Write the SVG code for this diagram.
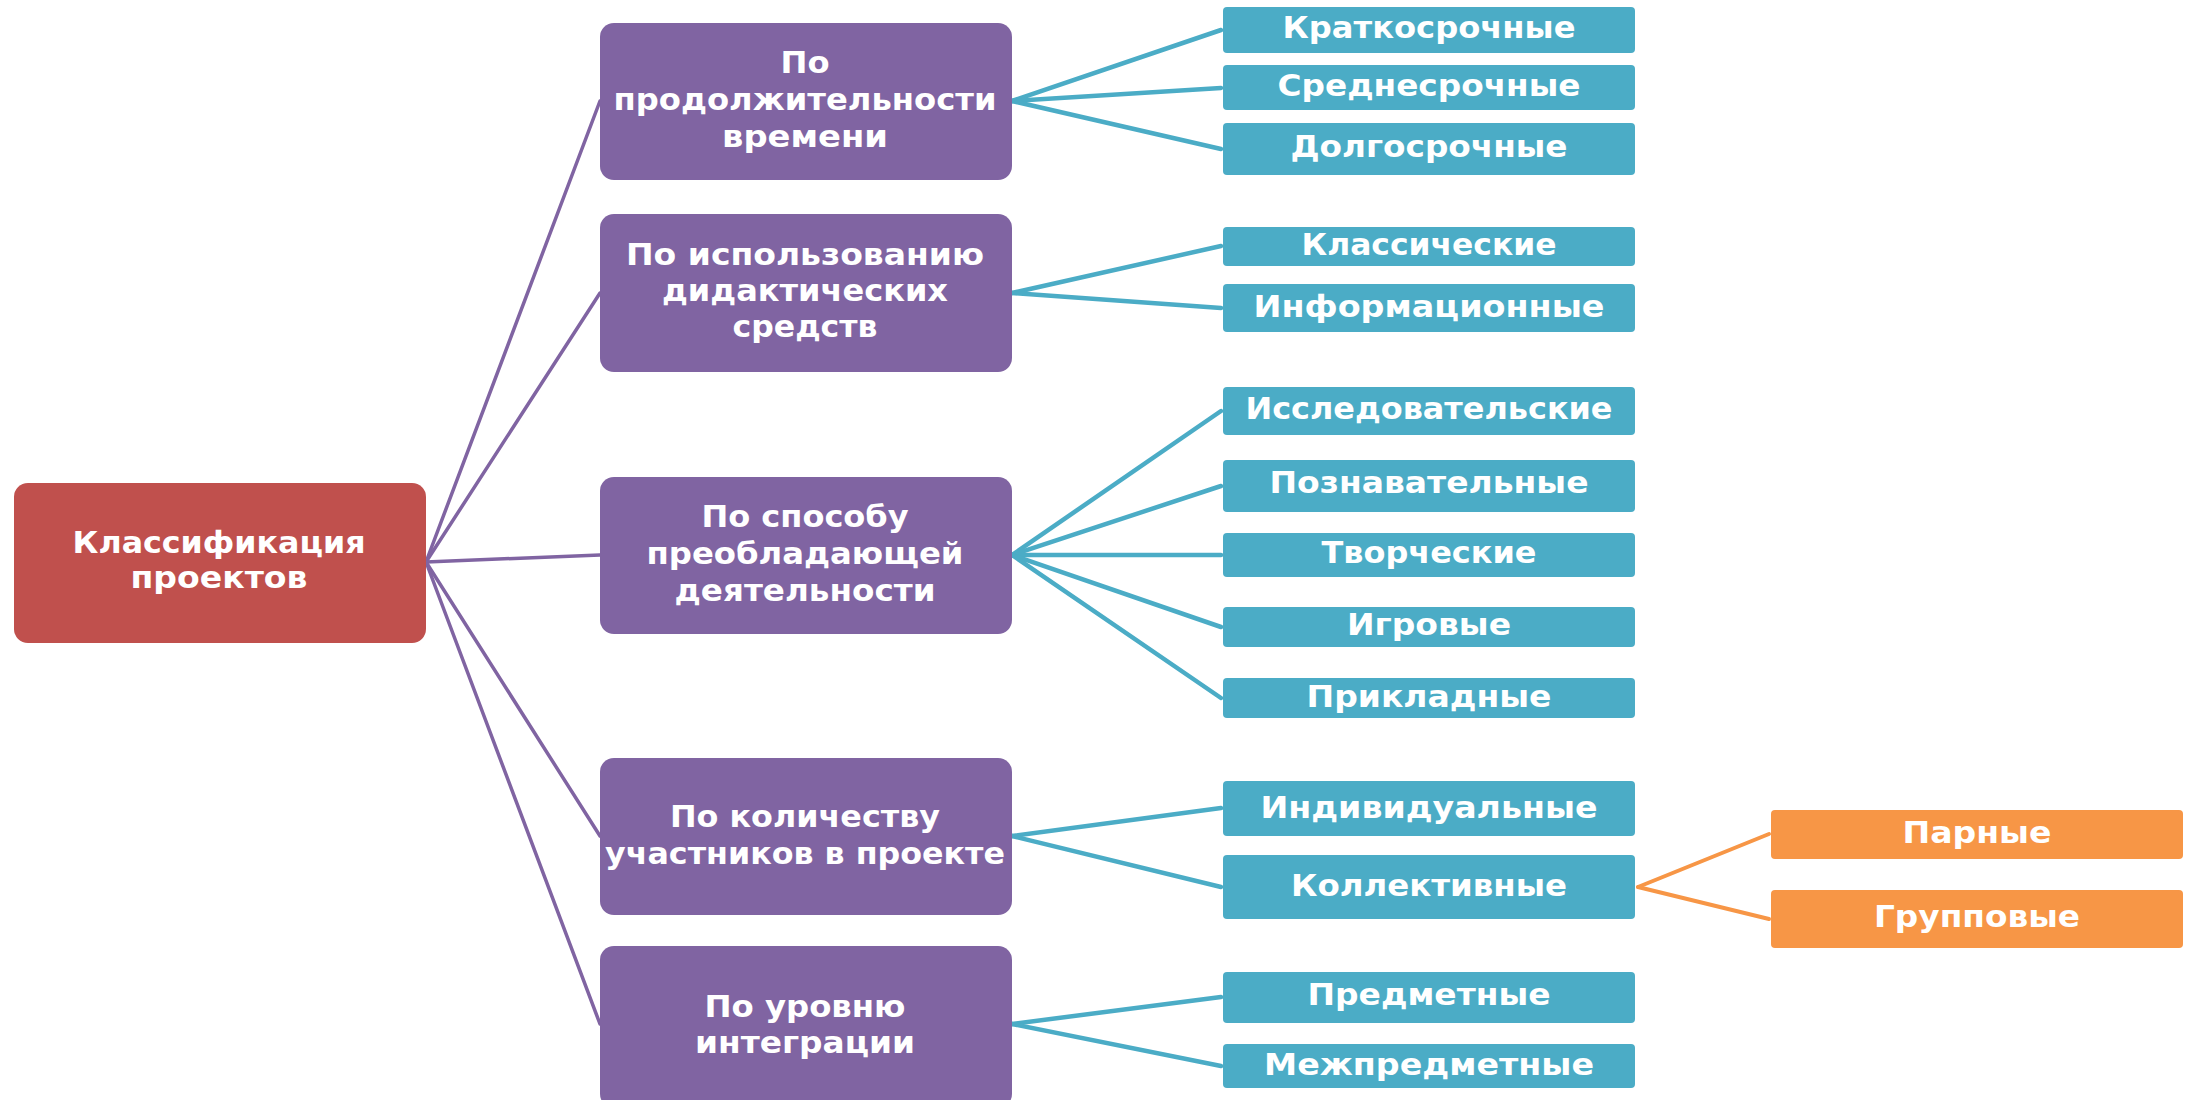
<svg xmlns="http://www.w3.org/2000/svg" width="2195" height="1100" viewBox="0 0 2195 1100">
<style>
  .bg { fill: #ffffff; }
  .red { fill: #C0504D; }
  .pur { fill: #8064A2; }
  .blu { fill: #4BACC6; }
  .org { fill: #F79646; }
  text { font-family: "DejaVu Sans", "Noto Sans", sans-serif; font-weight: bold; font-size: 30px; fill: #ffffff; text-anchor: middle; }
  .cp { stroke: #8064A2; stroke-width: 3.5; fill: none; stroke-linecap: round; }
  .cb { stroke: #4BACC6; stroke-width: 4.5; fill: none; stroke-linecap: round; }
  .co { stroke: #F79646; stroke-width: 4; fill: none; stroke-linecap: round; }
</style>
<rect class="bg" x="0" y="0" width="2195" height="1100"/>

<g id="connectors">
  <line class="cp" x1="426" y1="562" x2="600" y2="101"/>
  <line class="cp" x1="426" y1="562" x2="600" y2="293"/>
  <line class="cp" x1="426" y1="562" x2="600" y2="555"/>
  <line class="cp" x1="426" y1="562" x2="600" y2="836"/>
  <line class="cp" x1="426" y1="562" x2="600" y2="1024"/>

  <line class="cb" x1="1012" y1="101" x2="1221" y2="30"/>
  <line class="cb" x1="1012" y1="101" x2="1221" y2="88"/>
  <line class="cb" x1="1012" y1="101" x2="1221" y2="149"/>

  <line class="cb" x1="1012" y1="293" x2="1221" y2="246"/>
  <line class="cb" x1="1012" y1="293" x2="1221" y2="308"/>

  <line class="cb" x1="1012" y1="555" x2="1221" y2="411"/>
  <line class="cb" x1="1012" y1="555" x2="1221" y2="486"/>
  <line class="cb" x1="1012" y1="555" x2="1221" y2="555"/>
  <line class="cb" x1="1012" y1="555" x2="1221" y2="627"/>
  <line class="cb" x1="1012" y1="555" x2="1221" y2="698"/>

  <line class="cb" x1="1012" y1="836" x2="1221" y2="808"/>
  <line class="cb" x1="1012" y1="836" x2="1221" y2="887"/>

  <line class="cb" x1="1012" y1="1024" x2="1221" y2="997"/>
  <line class="cb" x1="1012" y1="1024" x2="1221" y2="1066"/>

  <line class="co" x1="1638" y1="887" x2="1769" y2="834"/>
  <line class="co" x1="1638" y1="887" x2="1769" y2="919"/>
</g>

<g id="root">
  <rect class="red" x="14" y="483" width="412" height="160" rx="14"/>
  <text x="219" y="553" textLength="293" lengthAdjust="spacingAndGlyphs">Классификация</text>
  <text x="219" y="588" textLength="177" lengthAdjust="spacingAndGlyphs">проектов</text>
</g>

<g id="cat-time">
  <rect class="pur" x="600" y="23" width="412" height="157" rx="14"/>
  <text x="805" y="73" textLength="49" lengthAdjust="spacingAndGlyphs">По</text>
  <text x="805" y="110" textLength="383" lengthAdjust="spacingAndGlyphs">продолжительности</text>
  <text x="805" y="147" textLength="166" lengthAdjust="spacingAndGlyphs">времени</text>
</g>
<g id="cat-didactic">
  <rect class="pur" x="600" y="214" width="412" height="158" rx="14"/>
  <text x="805" y="265" textLength="358" lengthAdjust="spacingAndGlyphs">По использованию</text>
  <text x="805" y="301" textLength="286" lengthAdjust="spacingAndGlyphs">дидактических</text>
  <text x="805" y="337" textLength="145" lengthAdjust="spacingAndGlyphs">средств</text>
</g>
<g id="cat-activity">
  <rect class="pur" x="600" y="477" width="412" height="157" rx="14"/>
  <text x="805" y="527" textLength="207" lengthAdjust="spacingAndGlyphs">По способу</text>
  <text x="805" y="564" textLength="317" lengthAdjust="spacingAndGlyphs">преобладающей</text>
  <text x="805" y="601" textLength="261" lengthAdjust="spacingAndGlyphs">деятельности</text>
</g>
<g id="cat-participants">
  <rect class="pur" x="600" y="758" width="412" height="157" rx="14"/>
  <text x="805" y="827" textLength="270" lengthAdjust="spacingAndGlyphs">По количеству</text>
  <text x="805" y="864" textLength="400" lengthAdjust="spacingAndGlyphs">участников в проекте</text>
</g>
<g id="cat-integration">
  <rect class="pur" x="600" y="946" width="412" height="162" rx="14"/>
  <text x="805" y="1017" textLength="201" lengthAdjust="spacingAndGlyphs">По уровню</text>
  <text x="805" y="1053" textLength="220" lengthAdjust="spacingAndGlyphs">интеграции</text>
</g>

<g id="short-term">
  <rect class="blu" x="1223" y="7" width="412" height="46" rx="4"/>
  <text x="1429" y="38" textLength="293" lengthAdjust="spacingAndGlyphs">Краткосрочные</text>
</g>
<g id="mid-term">
  <rect class="blu" x="1223" y="65" width="412" height="45" rx="4"/>
  <text x="1429" y="96" textLength="303" lengthAdjust="spacingAndGlyphs">Среднесрочные</text>
</g>
<g id="long-term">
  <rect class="blu" x="1223" y="123" width="412" height="52" rx="4"/>
  <text x="1429" y="157" textLength="277" lengthAdjust="spacingAndGlyphs">Долгосрочные</text>
</g>
<g id="classic">
  <rect class="blu" x="1223" y="227" width="412" height="39" rx="4"/>
  <text x="1429" y="255" textLength="255" lengthAdjust="spacingAndGlyphs">Классические</text>
</g>
<g id="information">
  <rect class="blu" x="1223" y="284" width="412" height="48" rx="4"/>
  <text x="1429" y="317" textLength="351" lengthAdjust="spacingAndGlyphs">Информационные</text>
</g>
<g id="research">
  <rect class="blu" x="1223" y="387" width="412" height="48" rx="4"/>
  <text x="1429" y="419" textLength="367" lengthAdjust="spacingAndGlyphs">Исследовательские</text>
</g>
<g id="cognitive">
  <rect class="blu" x="1223" y="460" width="412" height="52" rx="4"/>
  <text x="1429" y="493" textLength="319" lengthAdjust="spacingAndGlyphs">Познавательные</text>
</g>
<g id="creative">
  <rect class="blu" x="1223" y="533" width="412" height="44" rx="4"/>
  <text x="1429" y="563" textLength="215" lengthAdjust="spacingAndGlyphs">Творческие</text>
</g>
<g id="game">
  <rect class="blu" x="1223" y="607" width="412" height="40" rx="4"/>
  <text x="1429" y="635" textLength="164" lengthAdjust="spacingAndGlyphs">Игровые</text>
</g>
<g id="applied">
  <rect class="blu" x="1223" y="678" width="412" height="40" rx="4"/>
  <text x="1429" y="707" textLength="245" lengthAdjust="spacingAndGlyphs">Прикладные</text>
</g>
<g id="individual">
  <rect class="blu" x="1223" y="781" width="412" height="55" rx="4"/>
  <text x="1429" y="818" textLength="337" lengthAdjust="spacingAndGlyphs">Индивидуальные</text>
</g>
<g id="collective">
  <rect class="blu" x="1223" y="855" width="412" height="64" rx="4"/>
  <text x="1429" y="896" textLength="276" lengthAdjust="spacingAndGlyphs">Коллективные</text>
</g>
<g id="subject">
  <rect class="blu" x="1223" y="972" width="412" height="51" rx="4"/>
  <text x="1429" y="1005" textLength="243" lengthAdjust="spacingAndGlyphs">Предметные</text>
</g>
<g id="intersubject">
  <rect class="blu" x="1223" y="1044" width="412" height="44" rx="4"/>
  <text x="1429" y="1075" textLength="330" lengthAdjust="spacingAndGlyphs">Межпредметные</text>
</g>

<g id="pair">
  <rect class="org" x="1771" y="810" width="412" height="49" rx="4"/>
  <text x="1977" y="843" textLength="149" lengthAdjust="spacingAndGlyphs">Парные</text>
</g>
<g id="group">
  <rect class="org" x="1771" y="890" width="412" height="58" rx="4"/>
  <text x="1977" y="927" textLength="206" lengthAdjust="spacingAndGlyphs">Групповые</text>
</g>
</svg>
